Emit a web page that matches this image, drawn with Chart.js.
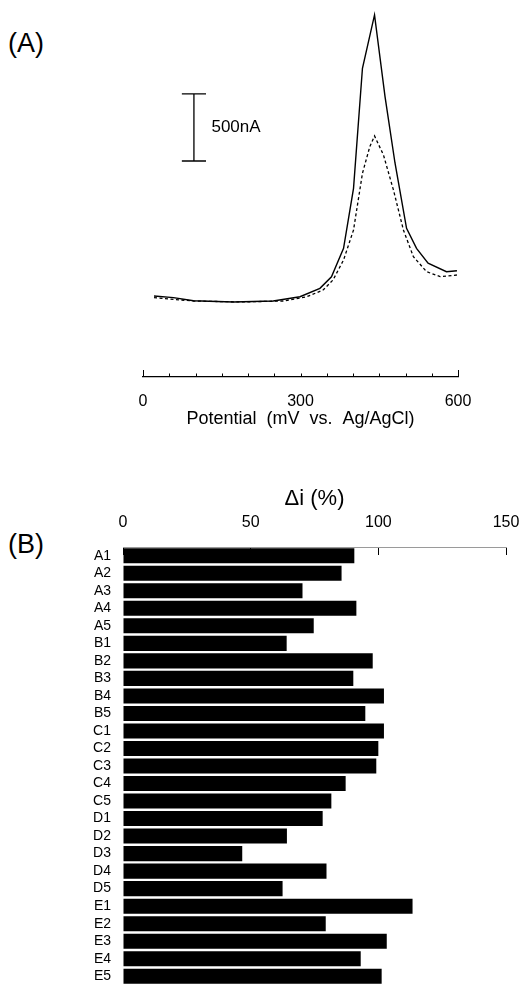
<!DOCTYPE html>
<html>
<head>
<meta charset="utf-8">
<script src="https://cdn.jsdelivr.net/npm/chart.js@4/dist/chart.umd.min.js"></script>
<style>
html,body{margin:0;padding:0;background:#fff;overflow:hidden;width:522px;height:984px;}
#wa{position:absolute;left:0;top:0;width:522px;height:440px;}
#wb{position:absolute;left:0;top:470px;width:522px;height:515px;}
canvas{display:block;}
.lab{position:absolute;left:8px;font-family:"Liberation Sans",Arial,Helvetica,sans-serif;font-size:27px;line-height:27px;color:#000;}
</style>
</head>
<body>
<div class="lab" style="top:30px">(A)</div>
<div class="lab" style="top:531px">(B)</div>
<div id="wa"><canvas id="ca" width="522" height="440"></canvas></div>
<div id="wb"><canvas id="cb" width="522" height="515"></canvas></div>
<script>
// ---------- Panel A data (potential in mV, current in nA) ----------
const potentialSolid = [21, 58, 96, 172, 248, 299, 337, 359, 382, 401, 418, 441, 461, 480, 502, 521, 543, 578, 598];
const currentSolid   = [7, -5, -28, -37, -30, 2, 65, 151, 363, 811, 1707, 2105, 1495, 1000, 513, 363, 252, 189, 196];
const potentialDashed = [21, 96, 185, 267, 312, 343, 362, 382, 401, 418, 432, 441, 458, 477, 496, 515, 540, 566, 598];
const currentDashed   = [-5, -30, -37, -30, 2, 52, 127, 276, 500, 923, 1122, 1202, 1060, 799, 500, 301, 189, 152, 164];
const scaleBarPotential = [74, 120, 97];       // cap left, cap right, bar
const scaleBarCurrent = [1015, 1515];          // bottom, top (500 nA)
const scaleBarLabel = '500nA';
const xTicksA = [0, 300, 600];
const xTitleA = 'Potential  (mV  vs.  Ag/AgCl)';

// ---------- Panel B data ----------
const categories = ['A1','A2','A3','A4','A5','B1','B2','B3','B4','B5','C1','C2','C3','C4','C5','D1','D2','D3','D4','D5','E1','E2','E3','E4','E5'];
const deltaI = [90.6, 85.6, 70.3, 91.4, 74.7, 64.1, 97.8, 90.2, 102.2, 94.9, 102.2, 100.0, 99.2, 87.2, 81.6, 78.2, 64.2, 46.7, 79.7, 62.5, 113.4, 79.4, 103.3, 93.1, 101.3];
const xTicksB = [0, 50, 100, 150];
const xTitleB = 'Δi (%)';

const FONT = '"Liberation Sans", Arial, Helvetica, sans-serif';

const pts = (xs, ys) => xs.map((x, i) => ({x: x, y: ys[i]}));
const scaleBarPts = [
  {x: scaleBarPotential[0], y: scaleBarCurrent[1]}, {x: scaleBarPotential[1], y: scaleBarCurrent[1]}, {x: null, y: null},
  {x: scaleBarPotential[2], y: scaleBarCurrent[1]}, {x: scaleBarPotential[2], y: scaleBarCurrent[0]}, {x: null, y: null},
  {x: scaleBarPotential[0], y: scaleBarCurrent[0]}, {x: scaleBarPotential[1], y: scaleBarCurrent[0]}
];

const upTicks = {
  id: 'upTicks',
  afterDraw(chart) {
    const s = chart.scales.x, ctx = chart.ctx, y = chart.chartArea.bottom;
    ctx.save();
    ctx.strokeStyle = '#000';
    ctx.lineWidth = 1;
    s.ticks.forEach(t => {
      const px = Math.round(s.getPixelForValue(t.value)) + 0.5;
      const len = (t.value === s.min || t.value === s.max) ? 7 : 3.5;
      ctx.beginPath(); ctx.moveTo(px, y); ctx.lineTo(px, y - len); ctx.stroke();
    });
    ctx.restore();
  }
};

const barLabel = {
  id: 'barLabel',
  afterDraw(chart) {
    const sx = chart.scales.x, sy = chart.scales.y, ctx = chart.ctx;
    const px = sx.getPixelForValue(scaleBarPotential[2]) + 17.5;
    const py = (sy.getPixelForValue(scaleBarCurrent[0]) + sy.getPixelForValue(scaleBarCurrent[1])) / 2;
    ctx.save();
    ctx.fillStyle = '#000';
    ctx.font = '17px ' + FONT;
    ctx.textAlign = 'left';
    ctx.textBaseline = 'middle';
    ctx.fillText(scaleBarLabel, px, py);
    ctx.restore();
  }
};

new Chart(document.getElementById('ca'), {
  type: 'line',
  data: {
    datasets: [
      {data: pts(potentialSolid, currentSolid), borderColor: '#000', borderWidth: 1.4, pointRadius: 0, tension: 0, fill: false},
      {data: pts(potentialDashed, currentDashed), borderColor: '#000', borderWidth: 1.3, borderDash: [3, 2.5], pointRadius: 0, tension: 0, fill: false},
      {data: scaleBarPts, borderColor: '#000', borderWidth: 1.3, pointRadius: 0, tension: 0, fill: false, spanGaps: false}
    ]
  },
  options: {
    responsive: false,
    animation: false,
    events: [],
    layout: {padding: {left: 143, right: 64, top: 7, bottom: 0}},
    plugins: {legend: {display: false}, tooltip: {enabled: false}},
    scales: {
      x: {
        type: 'linear', position: 'bottom', min: 0, max: 600,
        afterFit(s) { s.height = 63; },
        ticks: {
          stepSize: 50, autoSkip: false, maxRotation: 0, padding: 15, color: '#000',
          font: {family: FONT, size: 16},
          callback: v => xTicksA.includes(v) ? String(v) : ''
        },
        grid: {display: true, drawOnChartArea: false, drawTicks: false},
        border: {display: true, color: '#000', width: 1.2},
        title: {display: true, text: xTitleA, color: '#000', font: {family: FONT, size: 18}, padding: {top: 0, bottom: 10}}
      },
      y: {display: false, min: -597, max: 2164}
    }
  },
  plugins: [upTicks, barLabel]
});

new Chart(document.getElementById('cb'), {
  type: 'bar',
  data: {
    labels: categories,
    datasets: [{data: deltaI, backgroundColor: '#000', borderWidth: 0, barPercentage: 0.86, categoryPercentage: 1}]
  },
  options: {
    indexAxis: 'y',
    responsive: false,
    animation: false,
    events: [],
    layout: {padding: {left: 0, right: 16, top: 0, bottom: 0}},
    plugins: {legend: {display: false}, tooltip: {enabled: false}},
    scales: {
      x: {
        position: 'top', min: 0, max: 150,
        afterFit(s) { s.height = 77; s.paddingLeft = 0; s.paddingRight = 0; },
        ticks: {stepSize: 50, padding: 23, color: '#000', maxRotation: 0, font: {family: FONT, size: 16},
          callback: v => xTicksB.includes(v) ? String(v) : ''},
        grid: {drawOnChartArea: false, drawTicks: true, tickLength: -8, color: '#000', lineWidth: 1},
        border: {display: true, color: '#9a9a9a', width: 1, dash: [2, 2]},
        title: {display: true, text: xTitleB, color: '#000', font: {family: FONT, size: 22}, padding: {top: 16, bottom: 0}}
      },
      y: {
        afterFit(s) { s.width = 123; s.paddingTop = 0; s.paddingBottom = 0; },
        ticks: {padding: 12, color: '#000', autoSkip: false, font: {family: FONT, size: 14}},
        grid: {display: false, drawTicks: false},
        border: {display: false}
      }
    }
  }
});
</script>
</body>
</html>
